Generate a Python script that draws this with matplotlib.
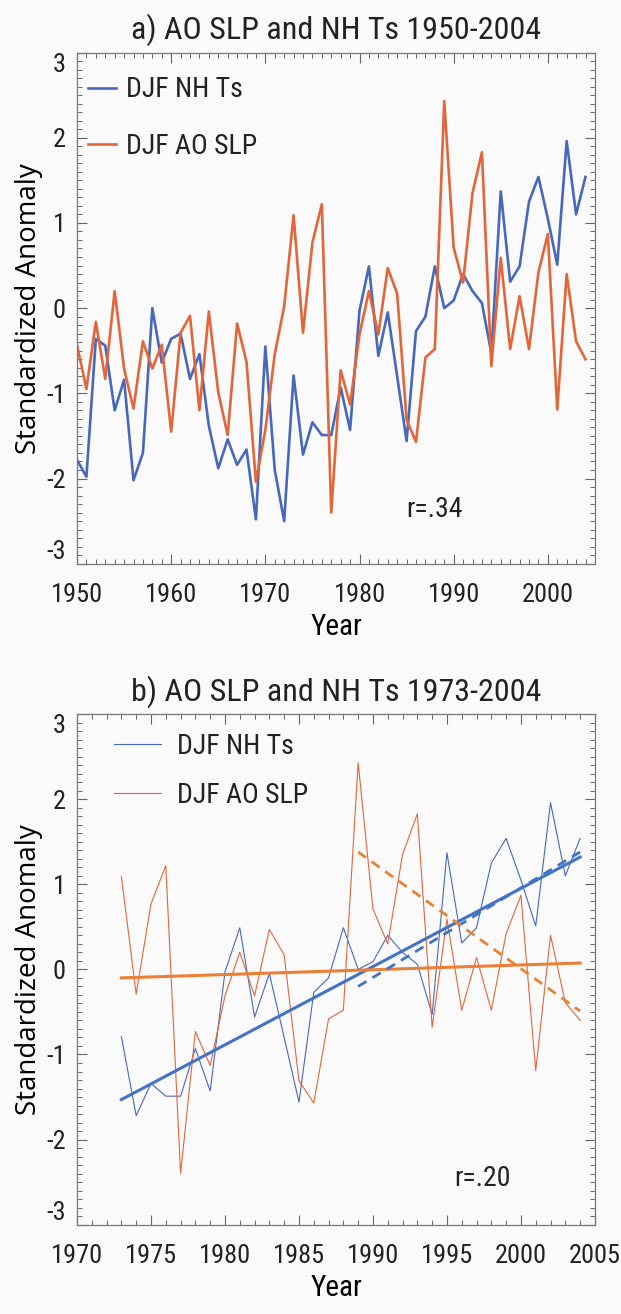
import numpy as np
import matplotlib
matplotlib.use("Agg")
import matplotlib.pyplot as plt
from matplotlib import font_manager
from matplotlib.ticker import MultipleLocator

# ---- data (standardized anomalies, DJF) ----
years = list(range(1950, 2005))

nh_ts = [-1.78, -1.98, -0.36, -0.44, -1.20, -0.84, -2.02, -1.70, 0.00, -0.64,
         -0.36, -0.30, -0.83, -0.54, -1.38, -1.88, -1.54, -1.84, -1.66, -2.48,
         -0.45, -1.90, -2.50, -0.79, -1.72, -1.34, -1.49, -1.49, -0.93, -1.43,
         -0.03, 0.49, -0.56, -0.05, -0.80, -1.56, -0.27, -0.10, 0.49, 0.00,
         0.09, 0.40, 0.20, 0.06, -0.53, 1.37, 0.31, 0.49, 1.25, 1.54,
         1.05, 0.51, 1.96, 1.10, 1.54]

ao_slp = [-0.43, -0.95, -0.16, -0.83, 0.20, -0.71, -1.18, -0.39, -0.71, -0.43,
          -1.45, -0.29, -0.09, -1.20, -0.04, -0.99, -1.49, -0.18, -0.63, -2.04,
          -1.43, -0.54, 0.02, 1.09, -0.29, 0.77, 1.22, -2.40, -0.73, -1.13,
          -0.31, 0.20, -0.31, 0.47, 0.17, -1.31, -1.57, -0.58, -0.48, 2.43,
          0.71, 0.30, 1.35, 1.83, -0.68, 0.59, -0.48, 0.14, -0.48, 0.42,
          0.87, -1.19, 0.40, -0.39, -0.60]

# trend lines
trend_full_years = [1973, 2004]
nh_trend_full = [-1.53, 1.32]
ao_trend_full = [-0.10, 0.075]
trend_late_years = [1989, 2004]
nh_trend_late = [-0.20, 1.38]
ao_trend_late = [1.38, -0.49]

r_a = "r=.34"
r_b = "r=.20"

BLUE = "#4868bb"
ORANGE = "#e2663a"
BLUE_T = "#4472c4"
ORANGE_T = "#ea8035"
TXT = "#222222"
BG = "#fafafa"

# pick a narrow face if one is installed, else fall back
installed = {f.name for f in font_manager.fontManager.ttflist}
narrow = [f for f in ["Liberation Sans Narrow", "Roboto Condensed",
                      "Open Sans Condensed", "Roboto", "DejaVu Sans"]
          if f in installed]
plt.rcParams["font.family"] = narrow + ["DejaVu Sans"]
plt.rcParams["font.stretch"] = "condensed"
plt.rcParams["axes.unicode_minus"] = False
plt.rcParams["text.color"] = TXT

TICK_FS = 19


def style_axes(ax, xmajor, xlim):
    ax.set_facecolor(BG)
    ax.set_xlim(*xlim)
    ax.set_ylim(-3, 3)
    ax.xaxis.set_major_locator(MultipleLocator(xmajor))
    ax.xaxis.set_minor_locator(MultipleLocator(1))
    ax.set_yticks(range(-3, 4))
    ax.yaxis.set_minor_locator(MultipleLocator(0.1))
    ax.tick_params(which="both", direction="in", top=True, right=True,
                   colors="#666666", labelcolor=TXT, labelsize=TICK_FS)
    ax.tick_params(axis="x", which="major", length=7, width=0.8, pad=14)
    ax.tick_params(axis="y", which="major", length=7, width=0.8, pad=8)
    ax.tick_params(which="minor", length=3.5, width=0.7)
    # end labels sit inside the frame, as in the original
    ylabs = ax.get_yticklabels()
    ylabs[0].set_va("bottom")
    ylabs[-1].set_va("top")
    for s in ax.spines.values():
        s.set_color("#777777")
        s.set_linewidth(0.9)
    ax.set_xlabel("Year", fontsize=21, labelpad=4)
    ax.set_ylabel("Standardized Anomaly", fontsize=20, labelpad=2,
                  family=["Open Sans", "DejaVu Sans"], stretch="normal")


fig = plt.figure(figsize=(6.21, 13.14), dpi=100, facecolor=BG)
ax1 = fig.add_axes([0.124, 0.571, 0.834, 0.389])
ax2 = fig.add_axes([0.124, 0.068, 0.834, 0.3885])

# ---- panel a ----
ax1.plot(years, nh_ts, color=BLUE, lw=1.9, label="DJF NH Ts")
ax1.plot(years, ao_slp, color=ORANGE, lw=1.9, label="DJF AO SLP")
style_axes(ax1, 10, (1950, 2005))
ax1.set_title("a) AO SLP and NH Ts 1950-2004", fontsize=23, pad=10)
ax1.legend(loc="upper left", frameon=False, fontsize=20, handlelength=1.0,
           handletextpad=0.35, labelspacing=1.05, borderaxespad=0.0,
           bbox_to_anchor=(0.0, 0.975))
ax1.text(1988, -2.36, r_a, fontsize=20, ha="center", va="center")

# ---- panel b ----
i0 = years.index(1973)
ax2.plot(years[i0:], nh_ts[i0:], color=BLUE, lw=0.8, label="DJF NH Ts")
ax2.plot(years[i0:], ao_slp[i0:], color=ORANGE, lw=0.8, label="DJF AO SLP")
ax2.plot(trend_full_years, nh_trend_full, color=BLUE_T, lw=2.2)
ax2.plot(trend_full_years, ao_trend_full, color=ORANGE_T, lw=2.2)
ax2.plot(trend_late_years, nh_trend_late, color=BLUE_T, lw=2.0,
         linestyle=(0, (3.5, 2.5)))
ax2.plot(trend_late_years, ao_trend_late, color=ORANGE_T, lw=2.0,
         linestyle=(0, (3.5, 2.5)))
style_axes(ax2, 5, (1970, 2005))
ax2.set_title("b) AO SLP and NH Ts 1973-2004", fontsize=23, pad=10)
ax2.legend(loc="upper left", frameon=False, fontsize=20, handlelength=1.7,
           handletextpad=0.55, labelspacing=0.8, borderaxespad=0.0,
           bbox_to_anchor=(0.05, 0.985))
ax2.text(1997.4, -2.46, r_b, fontsize=20, ha="center", va="center")

fig.savefig("out.png", dpi=100, facecolor=BG)
